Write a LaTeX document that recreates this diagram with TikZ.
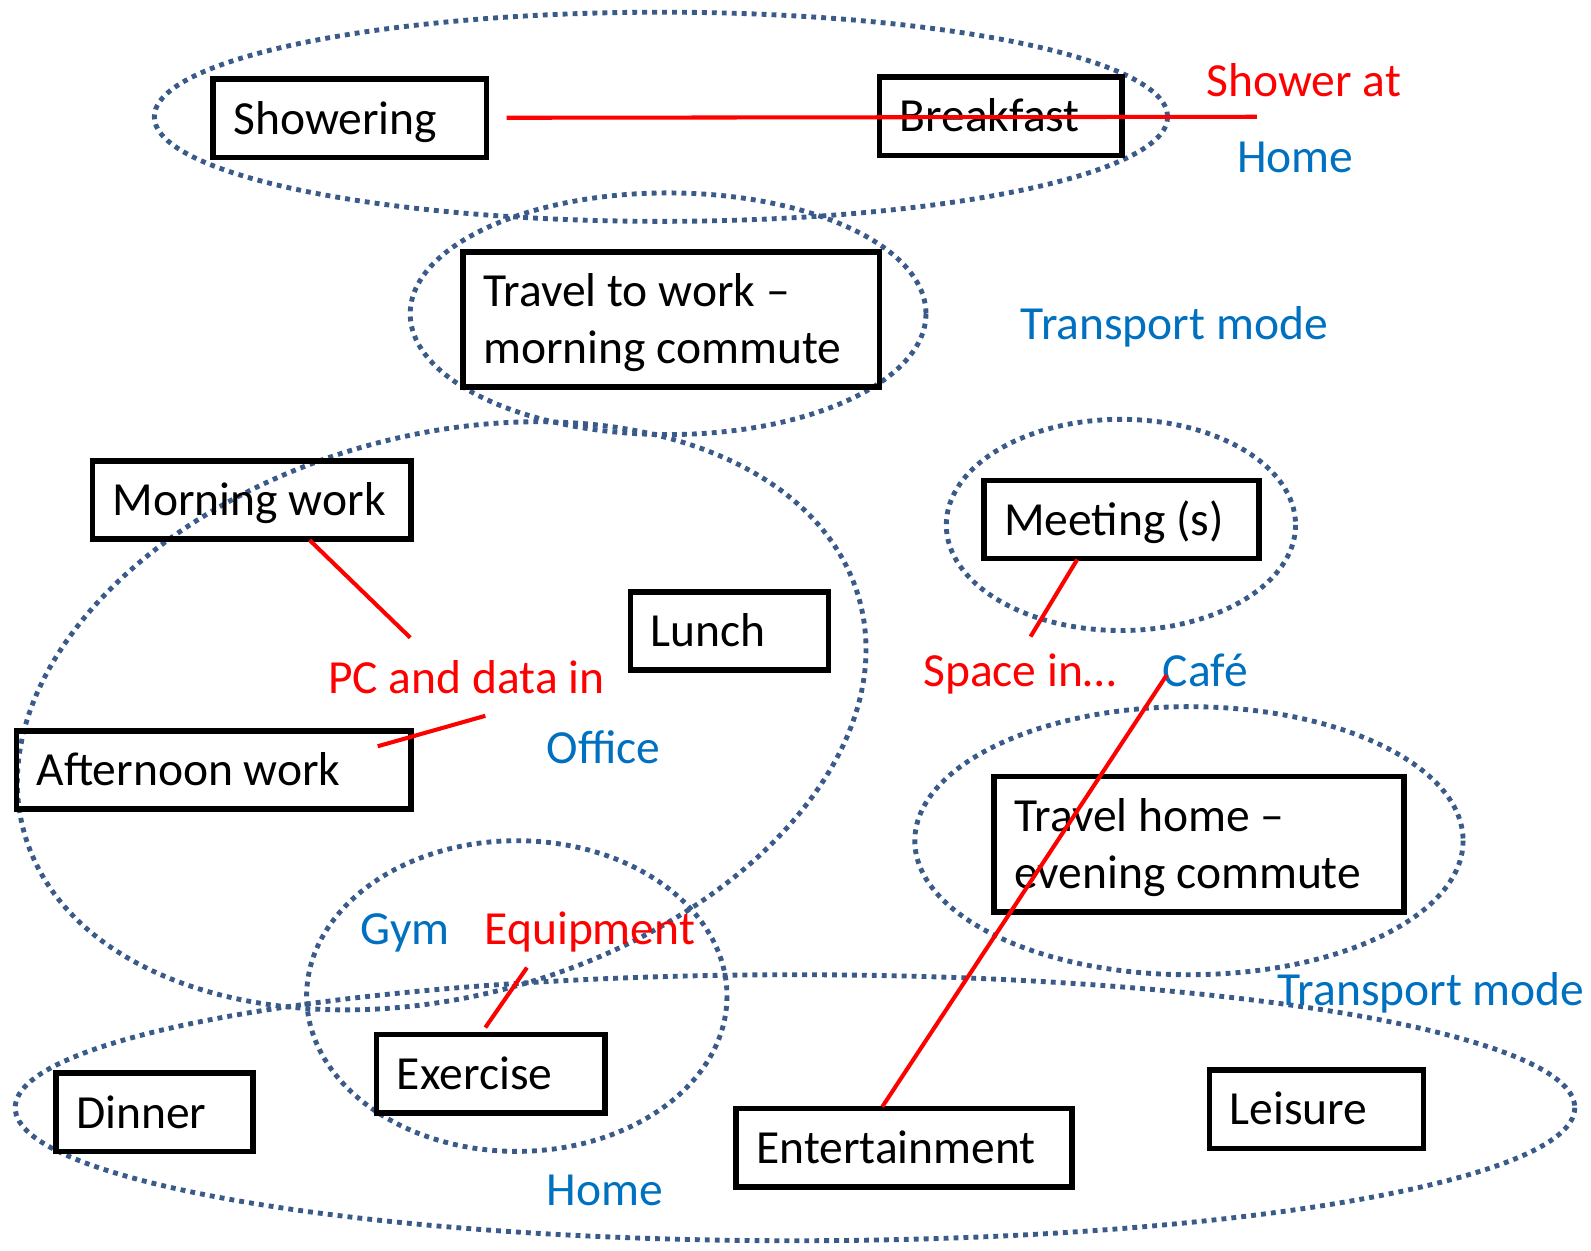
\documentclass[tikz,border=0pt]{standalone}
\usepackage{fontspec}
\setmainfont{Carlito}
\definecolor{ellc}{HTML}{3A5A8A}
\definecolor{lblue}{HTML}{0070C0}
\definecolor{lred}{HTML}{FF0000}
\begin{document}
\begin{tikzpicture}[x=0.5pt,y=-0.5pt,
  font=\fontsize{23.4}{28}\selectfont,
  ell/.style={draw=ellc, line width=2.4pt, dash pattern=on 2.4pt off 2.5pt},
  box/.style={draw, line width=2.7pt, anchor=north west, outer sep=0pt, inner xsep=10pt, inner ysep=4pt,
    align=flush left, text height=23pt, text depth=7.5pt},
  twoline/.style={text depth=35.5pt},
  bluelab/.style={text=lblue, inner sep=0pt, anchor=base west},
  redlab/.style={text=lred, inner sep=0pt, anchor=base west},
  strike/.style={draw=lred, line width=2pt}]
\useasboundingbox[fill=white] (0,0) rectangle (1567,1232);

% ellipses
\draw[ell] (651,115) ellipse [x radius=499, y radius=103];
\draw[ell] (658,309) ellipse [x radius=254, y radius=119];
\draw[ell, rotate around={15.6:(435,705)}] (435,705) ellipse [x radius=427, y radius=276];
\draw[ell] (1104,517) ellipse [x radius=172, y radius=104];
\draw[ell] (509,981) ellipse [x radius=207, y radius=153];
\draw[ell] (1171,828) ellipse [x radius=270, y radius=132];
\draw[ell] (783,1091) ellipse [x radius=768, y radius=131];

% boxes (top-left corner, width)
\node[box, text width=114.5pt] (shower) at (210,78) {Showering};
\node[box, text width=99.5pt] (breakfast) at (866,76) {Breakfast};
\node[box, twoline, text width=185pt] (travelw) at (456,248) {Travel to work –\\morning commute};
\node[box, text width=137pt] (mwork) at (91,454) {Morning~work};
\node[box, text width=77.5pt] (lunch) at (621,583) {Lunch};
\node[box, text width=174.5pt] (awork) at (16,720) {Afternoon~work};
\node[box, text width=115.5pt] (meeting) at (969,473) {Meeting~(s)};
\node[box, twoline, text width=182pt] (travelh) at (979,765) {Travel home –\\evening commute};
\node[box, text width=77pt] (dinner) at (55,1057) {Dinner};
\node[box, text width=92.5pt] (exercise) at (371,1019) {Exercise};
\node[box, text width=145.5pt] (entert) at (725,1092) {Entertainment};
\node[box, text width=85.5pt] (leisure) at (1191,1054) {Leisure};

% labels
\node[redlab] (showerat) at (1188,95) {Shower~at};
\node[bluelab] (home1) at (1218,170) {Home};
\node[bluelab] (tmode1) at (1005,334) {Transport~mode};
\node[redlab] (pcdata) at (323,683) {PC~and~data~in};
\node[bluelab] (office) at (538,752) {Office};
\node[redlab] (space) at (909,676) {Space~in…};
\node[bluelab] (cafe) at (1145,676) {Café};
\node[bluelab] (gym) at (355,930) {Gym};
\node[redlab] (equip) at (477,930) {Equipment};
\node[bluelab] (tmode2) at (1258,990) {Transport~mode};
\node[bluelab] (home2) at (538,1187) {Home};

% red lines
\coordinate (r1a) at (499,116); \coordinate (r1b) at (1238,115);
\coordinate (r2a) at (305,532); \coordinate (r2b) at (404,628);
\coordinate (r3a) at (372,735); \coordinate (r3b) at (478,705);
\coordinate (r4a) at (1061,551); \coordinate (r4b) at (1015,627);
\coordinate (r5a) at (1149,665); \coordinate (r5b) at (869,1090);
\coordinate (r6a) at (519,953); \coordinate (r6b) at (478,1012);
\draw[strike] (r1a) -- (r1b);
\draw[strike] (r2a) -- (r2b);
\draw[strike] (r3a) -- (r3b);
\draw[strike] (r4a) -- (r4b);
\draw[strike] (r5a) -- (r5b);
\draw[strike] (r6a) -- (r6b);
\end{tikzpicture}
\end{document}
